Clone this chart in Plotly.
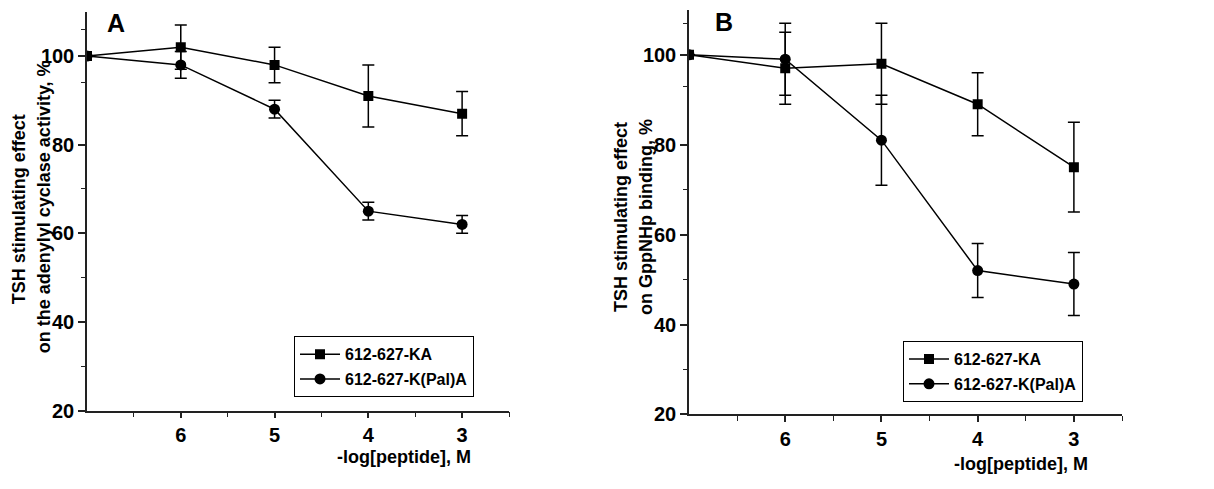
import plotly.graph_objects as go

# ---- data ----
x_conc = [7, 6, 5, 4, 3]          # -log[peptide], M (7 = control)
x_tickvals = [6, 5, 4, 3]
x_ticktext = ["6", "5", "4", "3"]
y_tickvals = [20, 40, 60, 80, 100]

series_names = ["612-627-KA", "612-627-K(Pal)A"]

A_KA = [100, 102, 98, 91, 87]
A_KA_err = [0, 5, 4, 7, 5]
A_Pal = [100, 98, 88, 65, 62]
A_Pal_err = [0, 3, 2, 2, 2]

B_KA = [100, 97, 98, 89, 75]
B_KA_err = [0, 8, 9, 7, 10]
B_Pal = [100, 99, 81, 52, 49]
B_Pal_err = [0, 8, 10, 6, 7]

FONT = "Liberation Sans, Arial, sans-serif"
W, H = 1214, 489

fig = go.Figure()

def add(xa, ya, y, err, name, symbol, size, legend, group):
    fig.add_trace(go.Scatter(
        x=x_conc, y=y, name=name, mode="lines+markers",
        xaxis=xa, yaxis=ya, legend=legend, legendgroup=group,
        line=dict(color="black", width=1.5),
        marker=dict(symbol=symbol, size=size, color="black"),
        error_y=dict(type="data", array=err, visible=True,
                     color="black", thickness=1.5, width=6),
    ))

add("x", "y", A_KA, A_KA_err, series_names[0], "square", 10, "legend", "a1")
add("x", "y", A_Pal, A_Pal_err, series_names[1], "circle", 11, "legend", "a2")
add("x2", "y2", B_KA, B_KA_err, series_names[0], "square", 10, "legend2", "b1")
add("x2", "y2", B_Pal, B_Pal_err, series_names[1], "circle", 11, "legend2", "b2")

def px_x(p):
    return p / W

def px_y(p):
    return 1 - p / H

axis_common = dict(
    showgrid=False, zeroline=False, showline=True, linecolor="#222",
    linewidth=1.5, ticks="outside", tickcolor="#222", tickwidth=1.5,
    tickfont=dict(family=FONT, size=20, color="black", weight="bold"),
)

xaxis_common = dict(axis_common, range=[7, 2.5], tickmode="array",
                    tickvals=x_tickvals, ticktext=x_ticktext, ticklen=6,
                    minor=dict(tickmode="array", tickvals=[6.5, 5.5, 4.5, 3.5, 2.5],
                               ticklen=5, tickcolor="#222", tickwidth=1.2, ticks="outside"))

legend_common = dict(xanchor="left", yanchor="top",
                     bordercolor="black", borderwidth=1, bgcolor="white",
                     font=dict(family=FONT, size=16, color="black", weight="bold"),
                     itemwidth=40, tracegroupgap=1)

fig.update_layout(
    width=W, height=H, margin=dict(l=0, r=0, t=0, b=0),
    paper_bgcolor="white", plot_bgcolor="white",
    font=dict(family=FONT, color="black"),
    xaxis=dict(xaxis_common, domain=[px_x(87), px_x(509)], anchor="y"),
    yaxis=dict(axis_common, domain=[px_y(420), px_y(12)], anchor="x",
               range=[20, 110], tickmode="array", tickvals=y_tickvals, ticklen=7,
               minor=dict(tickmode="array", tickvals=[30, 50, 70, 94, 106],
                          ticklen=4, tickcolor="#222", tickwidth=1.2, ticks="outside")),
    xaxis2=dict(xaxis_common, domain=[px_x(689), px_x(1122)], anchor="y2"),
    yaxis2=dict(axis_common, domain=[px_y(424), px_y(10)], anchor="x2",
                range=[20, 110], tickmode="array", tickvals=y_tickvals, ticklen=7,
                minor=dict(tickmode="array", tickvals=[30, 50, 70, 93, 107],
                           ticklen=4, tickcolor="#222", tickwidth=1.2, ticks="outside")),
    legend=dict(legend_common, x=px_x(294), y=px_y(344)),
    legend2=dict(legend_common, x=px_x(903), y=px_y(349)),
    showlegend=True,
)

def ann(text, x, y, size, angle=0):
    fig.add_annotation(text=text, x=px_x(x), y=px_y(y), xref="paper", yref="paper",
                       showarrow=False, textangle=angle, xanchor="center", yanchor="middle",
                       font=dict(family=FONT, size=size, color="black", weight="bold"))

# panel labels
ann("A", 116, 24, 25)
ann("B", 724, 22, 25)
# y-axis titles
ann("TSH stimulating effect", 19, 214, 18, -90)
ann("on the adenylyl cyclase activity, %", 44, 212, 18, -90)
ann("TSH stimulating effect", 621, 222, 18, -90)
ann("on GppNHp binding, %", 646, 222, 18, -90)
# x-axis titles
ann("-log[peptide], M", 404, 468, 18)
ann("-log[peptide], M", 1021, 475, 18)

fig.write_html("out.html", config={"displayModeBar": False},
               post_script="document.body.style.margin='0';")
